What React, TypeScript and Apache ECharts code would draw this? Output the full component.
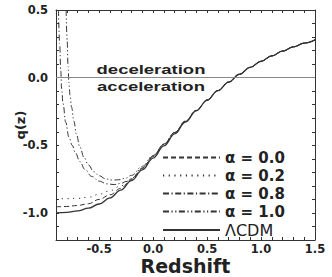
import React, { useEffect, useRef } from "react";
import * as echarts from "echarts";

// Redshift grid shared by the smooth curves
const zGrid = [-0.9, -0.8, -0.7, -0.6, -0.5, -0.4, -0.3, -0.2, -0.1, 0.0, 0.1, 0.2, 0.3, 0.4, 0.5, 0.6, 0.7, 0.8, 0.9, 1.0, 1.1, 1.2, 1.3, 1.4, 1.5];
const qLCDM = [-1.0, -0.996, -0.985, -0.965, -0.934, -0.889, -0.831, -0.761, -0.682, -0.595, -0.505, -0.415, -0.328, -0.245, -0.167, -0.096, -0.033, 0.025, 0.076, 0.121, 0.161, 0.196, 0.227, 0.255, 0.279];
const qAlpha00 = [-0.955, -0.952, -0.945, -0.932, -0.9, -0.866, -0.818, -0.753, -0.672, -0.584, -0.494, -0.406, -0.322, -0.242, -0.166, -0.096, -0.033, 0.025, 0.076, 0.121, 0.161, 0.196, 0.227, 0.255, 0.279];
const qAlpha02 = [-0.895, -0.895, -0.892, -0.884, -0.862, -0.836, -0.8, -0.747, -0.669, -0.582, -0.493, -0.405, -0.322, -0.242, -0.166, -0.096, -0.033, 0.025, 0.076, 0.121, 0.161, 0.196, 0.227, 0.255, 0.279];

// Diverging curves
const zAlpha08 = [-0.877, -0.866, -0.856, -0.848, -0.835, -0.81, -0.78, -0.75, -0.72, -0.68, -0.63, -0.57, -0.5, -0.43, -0.36, -0.3, -0.25, -0.2, -0.1, 0.0, 0.1, 0.2, 0.3, 0.4, 0.5, 0.6, 0.7, 0.8, 0.9, 1.0, 1.1, 1.2, 1.3, 1.4, 1.5];
const qAlpha08 = [0.5, 0.25, 0.05, -0.08, -0.19, -0.33, -0.44, -0.5, -0.555, -0.62, -0.68, -0.73, -0.765, -0.785, -0.79, -0.782, -0.768, -0.745, -0.667, -0.58, -0.492, -0.405, -0.322, -0.242, -0.166, -0.096, -0.033, 0.025, 0.076, 0.121, 0.161, 0.196, 0.227, 0.255, 0.279];
const zAlpha10 = [-0.806, -0.797, -0.788, -0.78, -0.77, -0.755, -0.735, -0.71, -0.68, -0.64, -0.6, -0.55, -0.5, -0.44, -0.38, -0.32, -0.26, -0.2, -0.1, 0.0, 0.1, 0.2, 0.3, 0.4, 0.5, 0.6, 0.7, 0.8, 0.9, 1.0, 1.1, 1.2, 1.3, 1.4, 1.5];
const qAlpha10 = [0.5, 0.28, 0.08, -0.04, -0.13, -0.22, -0.32, -0.42, -0.51, -0.59, -0.645, -0.695, -0.725, -0.748, -0.757, -0.755, -0.745, -0.722, -0.655, -0.575, -0.49, -0.405, -0.322, -0.242, -0.166, -0.096, -0.033, 0.025, 0.076, 0.121, 0.161, 0.196, 0.227, 0.255, 0.279];

const seriesNames = ["α = 0.0", "α = 0.2", "α = 0.8", "α = 1.0", "ΛCDM"];

const LINE = "#333";
const TEXT = "#222";

const pairs = (xs: number[], ys: number[]) => xs.map((x, i) => [x, ys[i]]);

const fmt = (v: number) => {
  const r = Math.round(v * 10);
  if (r % 5 !== 0) return "";
  return (r / 10).toFixed(1);
};

const tickLabel = {
  fontFamily: "DejaVu Sans",
  fontWeight: "bold" as const,
  fontSize: 11.5,
  lineHeight: 12,
  color: TEXT,
};

function makeX(pos: "bottom" | "top", main: boolean) {
  return {
    type: "value",
    min: -0.9,
    max: 1.5,
    interval: 0.1,
    position: pos,
    axisLine: { show: true, onZero: false, lineStyle: { color: LINE, width: 1 } },
    axisTick: { show: true, inside: true, length: 3, lineStyle: { color: LINE, width: 1 } },
    axisLabel: main ? { show: true, formatter: fmt, margin: 3, ...tickLabel } : { show: false },
    splitLine: { show: false },
    name: main ? "Redshift" : "",
    nameLocation: "middle",
    nameGap: 17,
    nameMoveOverlap: false,
    nameTextStyle: { fontFamily: "DejaVu Sans", fontWeight: "bold", fontSize: 19, lineHeight: 18, color: TEXT },
  };
}

function makeY(pos: "left" | "right", main: boolean) {
  return {
    type: "value",
    min: -1.2,
    max: 0.5,
    interval: 0.1,
    position: pos,
    axisLine: { show: true, onZero: false, lineStyle: { color: LINE, width: 1 } },
    axisTick: { show: true, inside: true, length: 3, lineStyle: { color: LINE, width: 1 } },
    axisLabel: main ? { show: true, formatter: fmt, margin: 8, ...tickLabel } : { show: false },
    splitLine: { show: false },
    name: main ? "q(z)" : "",
    nameLocation: "middle",
    nameGap: 29,
    nameMoveOverlap: false,
    nameTextStyle: { fontFamily: "DejaVu Sans", fontWeight: "bold", fontSize: 13, color: TEXT },
  };
}

const lineSeries = (name: string, data: number[][], type: any, width = 1) => ({
  name,
  type: "line",
  data,
  xAxisIndex: 0,
  yAxisIndex: 0,
  showSymbol: false,
  symbol: "none",
  smooth: 0.4,
  smoothMonotone: "x",
  lineStyle: { color: LINE, width, type },
  itemStyle: { color: LINE },
  emphasis: { disabled: true },
});

export default function App() {
  const ref = useRef<HTMLDivElement>(null);
  useEffect(() => {
    const chart = echarts.init(ref.current!, null, { renderer: "svg" });
    const lcdm: any = lineSeries(seriesNames[4], pairs(zGrid, qLCDM), "solid", 1.3);
    lcdm.markLine = {
      silent: true,
      symbol: ["none", "none"],
      label: { show: false },
      lineStyle: { color: "#8a8a8a", type: "solid", width: 1 },
      data: [{ yAxis: 0 }],
    };
    chart.setOption({
      animation: false,
      grid: { left: 56, right: 17, top: 10, bottom: 37, containLabel: false, outerBoundsMode: "none" },
      xAxis: [makeX("bottom", true), makeX("top", false)],
      yAxis: [makeY("left", true), makeY("right", false)],
      legend: {
        orient: "vertical",
        left: 157,
        top: 145,
        itemWidth: 57,
        itemHeight: 10,
        itemGap: 3,
        selectedMode: false,
        data: seriesNames,
        itemStyle: { opacity: 0, borderWidth: 0 },
        formatter: (name: string) => (name === "ΛCDM" ? `{n|${name}}` : `{b|${name}}`),
        textStyle: {
          color: TEXT,
          rich: {
            b: { fontFamily: "DejaVu Sans", fontWeight: "bold", fontSize: 15, lineHeight: 16, color: TEXT },
            n: { fontFamily: "DejaVu Sans", fontWeight: "normal", fontSize: 16, lineHeight: 16, color: TEXT },
          },
        },
      },
      graphic: [
        {
          type: "text",
          x: 151,
          y: 70,
          scaleX: 1.48,
          silent: true,
          style: {
            text: "deceleration",
            x: 0,
            y: 0,
            textAlign: "center",
            textVerticalAlign: "middle",
            font: "bold 12.5px 'Liberation Sans', Arial, sans-serif",
            fill: TEXT,
          },
        },
        {
          type: "text",
          x: 151,
          y: 87,
          scaleX: 1.48,
          silent: true,
          style: {
            text: "acceleration",
            x: 0,
            y: 0,
            textAlign: "center",
            textVerticalAlign: "middle",
            font: "bold 12.5px 'Liberation Sans', Arial, sans-serif",
            fill: TEXT,
          },
        },
      ],
      series: [
        lineSeries(seriesNames[0], pairs(zGrid, qAlpha00), [5, 3]),
        lineSeries(seriesNames[1], pairs(zGrid, qAlpha02), [1.2, 4.5]),
        lineSeries(seriesNames[2], pairs(zAlpha08, qAlpha08), [6, 2.5, 1.2, 2.5]),
        lineSeries(seriesNames[3], pairs(zAlpha10, qAlpha10), [6, 2.5, 1.2, 2.5, 1.2, 2.5]),
        lcdm,
      ],
    });
    return () => chart.dispose();
  }, []);
  return <div ref={ref} style={{ position: "absolute", left: 0, top: 0, width: 332, height: 277 }} />;
}
